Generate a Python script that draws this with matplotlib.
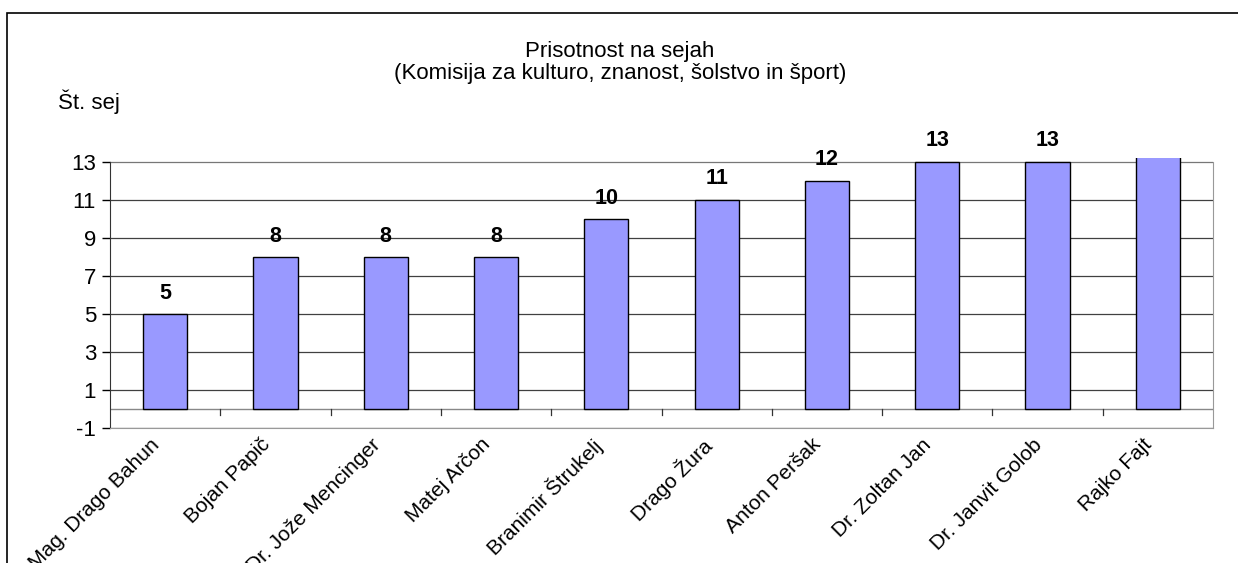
import matplotlib
matplotlib.use('Agg')
import matplotlib.pyplot as plt
from matplotlib.patches import Rectangle
import numpy as np

plt.rcParams['font.family'] = ['Liberation Sans', 'DejaVu Sans']
plt.rcParams['axes.unicode_minus'] = False

# Data
members = ['Mag. Drago Bahun', 'Bojan Papič', 'Dr. Jože Mencinger', 'Matej Arčon',
           'Branimir Štrukelj', 'Drago Žura', 'Anton Peršak', 'Dr. Zoltan Jan',
           'Dr. Janvit Golob', 'Rajko Fajt']
sessions = [5, 8, 8, 8, 10, 11, 12, 13, 13, 14]
y_ticks = [-1, 1, 3, 5, 7, 9, 11, 13]

W, H = 1238, 563
fig = plt.figure(figsize=(W / 100, H / 100), dpi=100)

# outer chart frame (cut off at right and bottom)
fig.patches.append(Rectangle((7 / W, -0.1), 1.2, 1 - 13 / H + 0.1, transform=fig.transFigure,
                             fill=False, edgecolor='black', linewidth=1.2))

ax = fig.add_axes([110 / W, 1 - 428 / H, (1213 - 110) / W, (428 - 158) / H])
x = np.arange(len(members))
ax.bar(x, sessions, width=0.4, color='#9999FF', edgecolor='black', linewidth=1, zorder=3)

# value labels (the one above the plot top is hidden, as in the original)
for xi, v in zip(x, sessions):
    if v <= 13:
        ax.annotate(str(v), (xi, v), xytext=(0, 15), textcoords='offset points',
                    ha='center', va='center', fontsize=15.5, fontweight='bold')

ax.set_xlim(-0.5, len(members) - 0.5)
ax.set_ylim(-1, 13.2)
ax.set_yticks(y_ticks)
ax.tick_params(axis='y', length=6, width=1, labelsize=16, pad=4, colors='black')
for t in y_ticks:
    ax.axhline(t, color='#777777' if t == 13 else '#404040', linewidth=0.9, zorder=1)
ax.axhline(0, color='#888888', linewidth=1, zorder=2)

# category boundary ticks below the zero line
ax.set_xticks([])
for b in np.arange(0.5, len(members) - 0.5, 1):
    ax.plot([b, b], [0, -0.3], color='#333333', linewidth=0.9, zorder=2)

for xi, name in zip(x, members):
    ax.annotate(name, (xi, -1), xytext=(-11, -5), textcoords='offset points',
                rotation=45, ha='right', va='top', rotation_mode='anchor',
                fontsize=15, annotation_clip=False)

ax.spines['top'].set_visible(False)
ax.spines['left'].set_bounds(-1, 13)
ax.spines['right'].set_bounds(-1, 13)
ax.spines['right'].set_color('#999999')
ax.spines['bottom'].set_color('#999999')
ax.spines['left'].set_color('#333333')

fig.text(620 / W, 1 - 52 / H, 'Prisotnost na sejah', ha='center', va='center', fontsize=16)
fig.text(620 / W, 1 - 73 / H, '(Komisija za kulturo, znanost, šolstvo in šport)',
         ha='center', va='center', fontsize=16)
fig.text(58 / W, 1 - 102 / H, 'Št. sej', ha='left', va='center', fontsize=16)

fig.savefig('out.png', dpi=100)
